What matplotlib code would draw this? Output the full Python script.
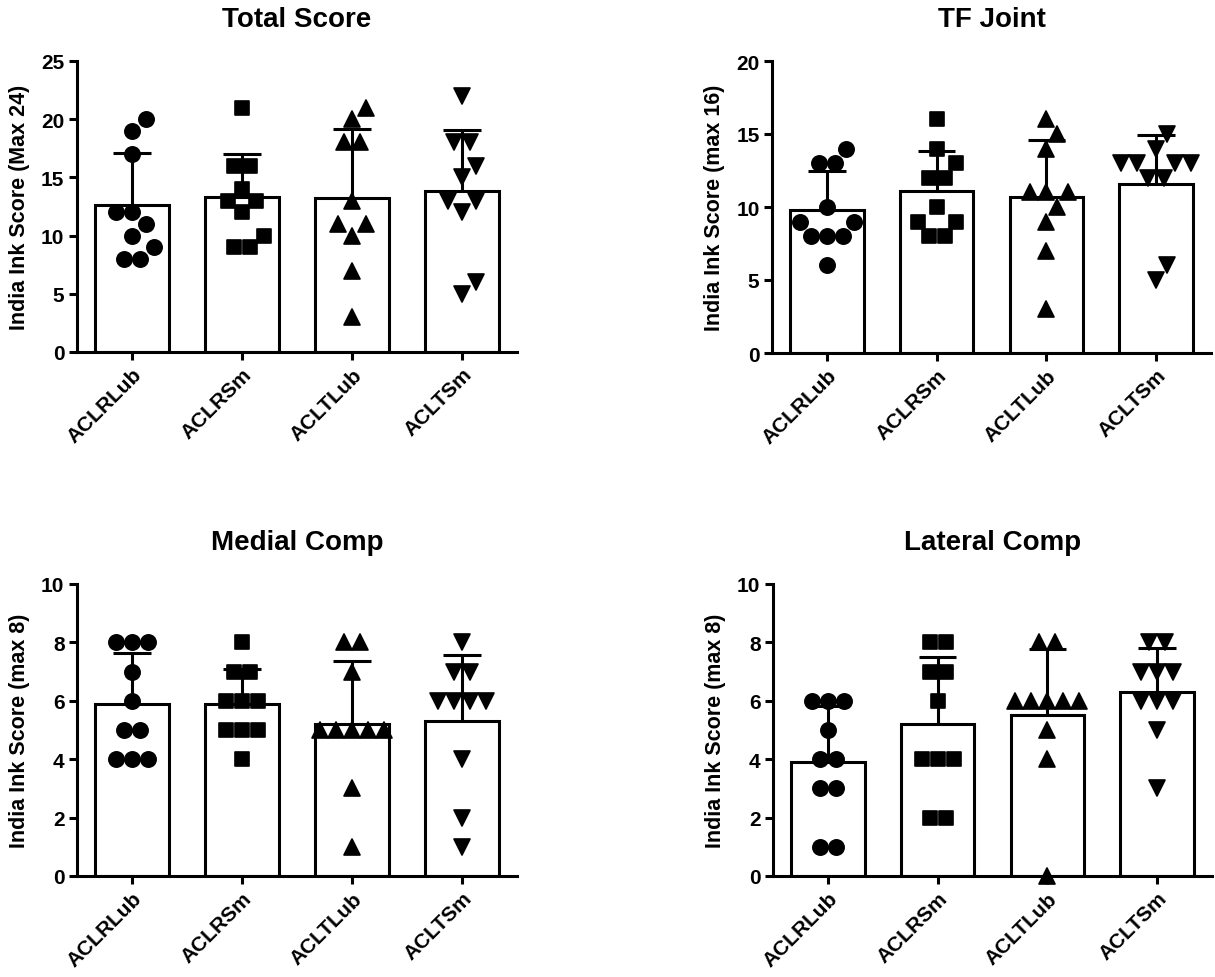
import numpy as np
import matplotlib
matplotlib.use("Agg")
import matplotlib.pyplot as plt
from matplotlib.markers import MarkerStyle

plt.rcParams['font.family'] = ['Liberation Sans', 'DejaVu Sans']
plt.rcParams['font.weight'] = 'bold'

groups = ['ACLRLub', 'ACLRSm', 'ACLTLub', 'ACLTSm']
markers = ['o', 's', '^', 'v']

# Total Score
total_aclrlub = [20, 19, 17, 12, 12, 11, 10, 9, 8, 8]
total_aclrsm = [21, 16, 16, 14, 13, 13, 12, 10, 9, 9]
total_acltlub = [21, 20, 18, 18, 13, 11, 11, 10, 7, 3]
total_acltsm = [22, 18, 18, 16, 15, 13, 13, 12, 6, 5]

# TF Joint
tf_aclrlub = [14, 13, 13, 10, 9, 9, 8, 8, 8, 6]
tf_aclrsm = [16, 14, 13, 12, 12, 10, 9, 9, 8, 8]
tf_acltlub = [16, 15, 14, 11, 11, 11, 10, 9, 7, 3]
tf_acltsm = [15, 14, 13, 13, 13, 13, 12, 12, 6, 5]

# Medial Comp
med_aclrlub = [8, 8, 8, 7, 6, 5, 5, 4, 4, 4]
med_aclrsm = [8, 7, 7, 6, 6, 6, 5, 5, 5, 4]
med_acltlub = [8, 8, 7, 5, 5, 5, 5, 5, 3, 1]
med_acltsm = [8, 7, 7, 6, 6, 6, 6, 4, 2, 1]

# Lateral Comp
lat_aclrlub = [6, 6, 6, 5, 4, 4, 3, 3, 1, 1]
lat_aclrsm = [8, 8, 7, 7, 6, 4, 4, 4, 2, 2]
lat_acltlub = [8, 8, 6, 6, 6, 6, 6, 5, 4, 0]
lat_acltsm = [8, 8, 7, 7, 7, 6, 6, 6, 5, 3]

panels = [
    dict(title='Total Score', ylabel='India Ink Score (Max 24)', ymax=25, ticks=[0, 5, 10, 15, 20, 25],
         data=[total_aclrlub, total_aclrsm, total_acltlub, total_acltsm]),
    dict(title='TF Joint', ylabel='India Ink Score (max 16)', ymax=20, ticks=[0, 5, 10, 15, 20],
         data=[tf_aclrlub, tf_aclrsm, tf_acltlub, tf_acltsm]),
    dict(title='Medial Comp', ylabel='India Ink Score (max 8)', ymax=10, ticks=[0, 2, 4, 6, 8, 10],
         data=[med_aclrlub, med_aclrsm, med_acltlub, med_acltsm]),
    dict(title='Lateral Comp', ylabel='India Ink Score (max 8)', ymax=10, ticks=[0, 2, 4, 6, 8, 10],
         data=[lat_aclrlub, lat_aclrsm, lat_acltlub, lat_acltsm]),
]

W, H = 1215, 978
fig = plt.figure(figsize=(W / 100, H / 100), dpi=100)

# axes rects in pixels: left, top, right, bottom
rects = [(77, 62, 517, 353), (772, 62, 1211, 354), (77, 585, 517, 877), (773, 585, 1212, 877)]

LW = 2.2
SPACE = 16.0   # px between tied points in a row
COLL = 18.0    # px minimum distance between points of different rows


def swarm(values, center, ax):
    """Place points of one column without overlap; returns x positions in data units."""
    vals = np.asarray(values, dtype=float)
    order = np.argsort(vals, kind='stable')
    p0 = ax.transData.transform((0, 0))
    p1 = ax.transData.transform((1, 1))
    sx, sy = p1[0] - p0[0], p1[1] - p0[1]
    placed = []
    xs = np.zeros(len(vals))
    uniq = []
    for i in order:
        if uniq and uniq[-1][0] == vals[i]:
            uniq[-1][1].append(i)
        else:
            uniq.append((vals[i], [i]))
    grid = np.arange(-45, 45.01, 0.5)
    grid = grid[np.argsort(np.abs(grid) + (grid < 0) * 1e-3, kind='stable')]

    def free(xp, yp, others):
        for (px, py) in others:
            d = COLL if abs(py - yp) > 1e-6 else SPACE
            if (xp - px) ** 2 + (yp - py) ** 2 < (d - 0.01) ** 2:
                return False
        return True

    for v, idxs in uniq:
        n = len(idxs)
        rel = (np.arange(n) - (n - 1) / 2) * SPACE
        ypx = v * sy
        done = False
        for c in grid:
            if abs(c) > SPACE / 2 + 0.01:
                break
            if all(free(c + r, ypx, placed) for r in rel):
                for k, i in enumerate(idxs):
                    placed.append((c + rel[k], ypx))
                    xs[i] = center + (c + rel[k]) / sx
                done = True
                break
        if not done:
            side = 1
            for i in idxs:
                cand = sorted(grid, key=lambda g: (abs(g), -side * np.sign(g)))
                for g in cand:
                    if free(g, ypx, placed):
                        placed.append((g, ypx))
                        xs[i] = center + g / sx
                        side = -np.sign(g) if g != 0 else -side
                        break
    return xs


msizes = {'o': 11, 's': 9.6, '^': 11.8, 'v': 11.8}

for p, (l, t, r, b) in zip(panels, rects):
    ax = fig.add_axes([l / W, 1 - b / H, (r - l) / W, (b - t) / H])
    ax.set_xlim(-0.5, 3.5)
    ax.set_ylim(0, p['ymax'])
    for s in ['top', 'right']:
        ax.spines[s].set_visible(False)
    for s in ['left', 'bottom']:
        ax.spines[s].set_linewidth(LW)
    x = np.arange(len(groups))
    means = [np.mean(d) for d in p['data']]
    sds = [np.std(d, ddof=1) for d in p['data']]
    ax.bar(x, means, width=0.67, color='white', edgecolor='black', linewidth=LW, zorder=2)
    ax.vlines(x, means, np.add(means, sds), color='black', linewidth=LW, zorder=3)
    ax.hlines(np.add(means, sds), x - 0.17, x + 0.17, color='black', linewidth=LW, zorder=3)
    for j, d in enumerate(p['data']):
        xs = swarm(d, x[j], ax)
        mk = MarkerStyle(markers[j], joinstyle='round')
        ax.plot(xs, d, linestyle='none', marker=mk, markersize=msizes[markers[j]],
                color='black', markeredgecolor='black', markeredgewidth=1.2,
                zorder=4, clip_on=False)
    ax.set_xticks(x)
    ax.set_xticklabels(groups, rotation=45, ha='right', va='top', rotation_mode='anchor',
                       fontsize=15, fontweight='bold')
    ax.set_yticks(p['ticks'])
    ax.set_yticklabels([str(v) for v in p['ticks']], fontsize=15, fontweight='bold')
    ax.tick_params(axis='both', width=LW, length=6, direction='out', pad=3)
    ax.set_ylabel(p['ylabel'], fontsize=15.5, fontweight='bold', labelpad=8)
    ax.set_title(p['title'], fontsize=20, fontweight='bold', pad=25)

fig.savefig('out.png', dpi=100)
